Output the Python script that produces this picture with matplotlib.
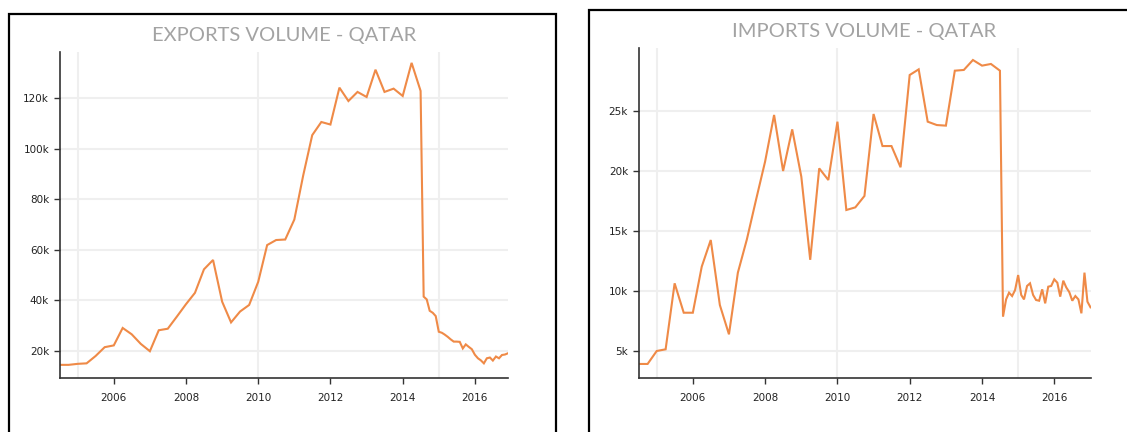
import matplotlib
matplotlib.use("Agg")
import matplotlib.pyplot as plt
import matplotlib.dates as mdates
from matplotlib.patches import Rectangle
from matplotlib.ticker import FuncFormatter
import pandas as pd

# ---------------- data (values in thousands) ----------------
quarterly_start = "2004-07-01"
quarterly_end = "2014-07-01"
monthly_start = "2014-08-01"

exports_quarterly = [14.5, 14.5, 14.9, 15.1, 18.0, 21.5, 22.2, 29.1, 26.6, 22.8,
                     19.9, 28.2, 28.8, 33.6, 38.5, 43.0, 52.3, 56.0, 39.5, 31.3,
                     35.6, 38.2, 47.4, 61.9, 63.9, 64.1, 72.0, 89.5, 105.4, 110.6,
                     109.6, 124.2, 118.9, 122.5, 120.5, 131.3, 122.5, 123.8, 120.9, 134.0,
                     122.9]
exports_monthly = [41.5, 40.4, 35.9, 35.1, 33.8, 27.6, 27.2, 26.5, 25.6, 24.6,
                   23.7, 23.7, 23.6, 21.0, 22.6, 21.6, 20.7, 18.5, 17.1, 16.3,
                   15.1, 17.1, 17.4, 16.2, 17.8, 17.1, 18.4, 18.6, 19.1]

imports_quarterly = [3.92, 3.92, 5.0, 5.14, 10.64, 8.19, 8.19, 12.03, 14.25, 8.83,
                     6.39, 11.53, 14.3, 17.58, 20.78, 24.67, 20.0, 23.47, 19.53, 12.6,
                     20.22, 19.25, 24.11, 16.75, 16.97, 17.92, 24.75, 22.08, 22.08, 20.31,
                     28.0, 28.47, 24.11, 23.83, 23.78, 28.36, 28.42, 29.25, 28.78, 28.92,
                     28.36]
imports_monthly = [7.86, 9.3, 9.86, 9.58, 10.08, 11.33, 9.67, 9.3, 10.42, 10.64,
                   9.67, 9.25, 9.19, 10.14, 8.97, 10.36, 10.42, 10.97, 10.69, 9.53,
                   10.86, 10.3, 9.9, 9.19, 9.58, 9.3, 8.14, 11.53, 9.11, 8.64]

exports_title = "EXPORTS VOLUME - QATAR"
imports_title = "IMPORTS VOLUME - QATAR"
exports_yticks = [20, 40, 60, 80, 100, 120]
imports_yticks = [5, 10, 15, 20, 25]
grid_years = [2005, 2010, 2015]

# ---------------- build series ----------------
q_dates = pd.date_range(quarterly_start, quarterly_end, freq="QS-JAN")

def series(q_vals, m_vals):
    m_dates = pd.date_range(monthly_start, periods=len(m_vals), freq="MS")
    dates = list(q_dates) + list(m_dates)
    vals = [v * 1000 for v in (q_vals + m_vals)]
    return pd.Series(vals, index=pd.DatetimeIndex(dates))

exp = series(exports_quarterly, exports_monthly)
imp = series(imports_quarterly, imports_monthly)

# ---------------- figure ----------------
W, H = 1127, 432
fig = plt.figure(figsize=(W / 100, H / 100), dpi=100)
fig.patch.set_facecolor("white")

def fx(px):
    return px / W

def fy(py):
    return 1 - py / H

LINE = "#ef8a47"
GRID = "#efefef"
AX = "#333333"

def make_panel(rect_px, s, title, yticks, ylim):
    x0, top, x1, bottom = rect_px
    ax = fig.add_axes([fx(x0), fy(bottom), fx(x1 - x0), (bottom - top) / H])
    ax.plot(s.index, s.values, color=LINE, lw=1.5, solid_joinstyle="miter")
    ax.set_xlim(s.index[0], s.index[-1])
    ax.set_ylim(*ylim)
    for sp in ["top", "right"]:
        ax.spines[sp].set_visible(False)
    for sp in ["left", "bottom"]:
        ax.spines[sp].set_color(AX)
        ax.spines[sp].set_linewidth(1.2)
    ax.xaxis.set_major_locator(mdates.YearLocator(2))
    ax.xaxis.set_major_formatter(mdates.DateFormatter("%Y"))
    ax.set_yticks([v * 1000 for v in yticks])
    ax.yaxis.set_major_formatter(FuncFormatter(lambda v, p: f"{int(round(v / 1000))}k"))
    ax.tick_params(axis="both", which="major", colors=AX, labelcolor="#222222",
                   labelsize=7.5, length=4.5, width=1, pad=3)
    ax.tick_params(axis="x", which="major", pad=6)
    ax.grid(True, axis="y", which="major", color=GRID, lw=1.5)
    for yr in grid_years:
        ax.axvline(pd.Timestamp(f"{yr}-01-01"), color=GRID, lw=1.5, zorder=0)
    ax.set_axisbelow(True)
    for lab in ax.get_xticklabels() + ax.get_yticklabels():
        lab.set_family("DejaVu Sans")
    ax.set_title(title, fontsize=14.5, color="#a3a3a3", family="Lato",
                 fontweight="normal", pad=8)
    return ax

make_panel((59.5, 52, 508, 378), exp, exports_title, exports_yticks, (9300, 138300))
make_panel((638.5, 48, 1090.5, 378), imp, imports_title, imports_yticks, (2750, 30250))

# panel borders
fig.add_artist(Rectangle((fx(9), fy(440)), fx(546.5), (440 - 14) / H,
                         transform=fig.transFigure, fill=False, ec="black", lw=1.6,
                         clip_on=False))
fig.add_artist(Rectangle((fx(588.5), fy(440)), fx(560), (440 - 10) / H,
                         transform=fig.transFigure, fill=False, ec="black", lw=1.6,
                         clip_on=False))

fig.savefig("out.png", dpi=100)
